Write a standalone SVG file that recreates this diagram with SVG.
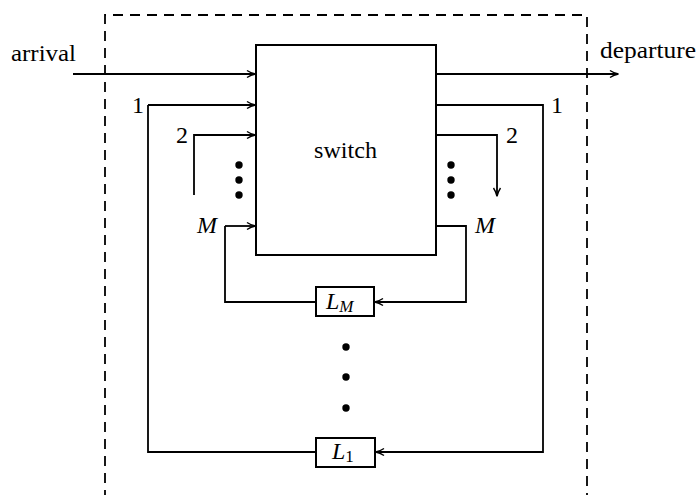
<svg xmlns="http://www.w3.org/2000/svg" width="698" height="495" viewBox="0 0 698 495">
<style>
.ln{fill:none;stroke:#000;stroke-width:1.8}
.bx{fill:#fff;stroke:#000;stroke-width:2}
.dash{fill:none;stroke:#000;stroke-width:1.8;stroke-dasharray:10 7}
</style>
<defs>
<marker id="ar" viewBox="0 0 10 10" refX="9" refY="5" markerWidth="10" markerHeight="10" markerUnits="userSpaceOnUse" orient="auto">
<path d="M1,1.5 Q5,4.2 9.5,5 Q5,5.8 1,8.5" fill="none" stroke="#000" stroke-width="1.4"/>
</marker>
</defs>
<rect width="698" height="495" fill="#fff"/>
<g id="frame">
<path class="dash" d="M105,500 V15 H587 V500"/>
</g>
<g id="connectors">
<path class="ln" d="M73,74 H255" marker-end="url(#ar)"/>
<path class="ln" d="M436,74 H618" marker-end="url(#ar)"/>
<path class="ln" d="M148,105 H255" marker-end="url(#ar)"/>
<path class="ln" d="M194,195 V135 H255" marker-end="url(#ar)"/>
<path class="ln" d="M225,226 H255" marker-end="url(#ar)"/>
<path class="ln" d="M436,135 H497 V196" marker-end="url(#ar)"/>
<path class="ln" d="M436,226 H466 V302 H375" marker-end="url(#ar)"/>
<path class="ln" d="M316,302 H225 V226"/>
<path class="ln" d="M436,105 H543 V452 H376" marker-end="url(#ar)"/>
<path class="ln" d="M316,452 H148 V105"/>
</g>
<g font-family="'Liberation Serif', 'Times New Roman', serif" font-size="24" fill="#000">
<g id="switch">
<rect class="bx" x="256" y="45" width="180" height="210"/>
<text x="345.5" y="158" text-anchor="middle" textLength="63" lengthAdjust="spacingAndGlyphs">switch</text>
</g>
<g id="LM">
<rect class="bx" x="316" y="287" width="58" height="29"/>
<text x="326" y="309" font-style="italic">L<tspan font-size="17" dy="3">M</tspan></text>
</g>
<g id="L1">
<rect class="bx" x="316" y="438" width="59" height="29"/>
<text x="332" y="459" font-style="italic">L<tspan font-size="17" font-style="normal" dy="3">1</tspan></text>
</g>
<g id="labels">
<text x="11" y="61" textLength="65" lengthAdjust="spacingAndGlyphs">arrival</text>
<text x="600" y="58" textLength="96" lengthAdjust="spacingAndGlyphs">departure</text>
<text x="132" y="113">1</text>
<text x="176" y="143">2</text>
<text x="197" y="233" font-style="italic">M</text>
<text x="551" y="113">1</text>
<text x="506" y="143">2</text>
<text x="475" y="233" font-style="italic">M</text>
</g>
</g>
<g id="dots" fill="#000">
<circle cx="239" cy="165" r="3.7"/>
<circle cx="239" cy="180" r="3.7"/>
<circle cx="239" cy="195" r="3.7"/>
<circle cx="451" cy="165" r="3.7"/>
<circle cx="451" cy="180" r="3.7"/>
<circle cx="451" cy="195" r="3.7"/>
<circle cx="346" cy="347" r="3.7"/>
<circle cx="346" cy="377" r="3.7"/>
<circle cx="346" cy="408" r="3.7"/>
</g>
</svg>
